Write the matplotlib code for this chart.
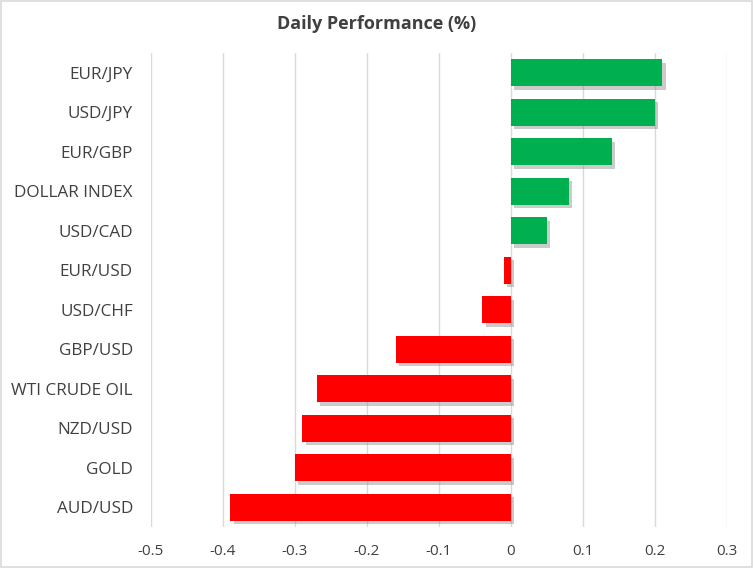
import matplotlib.pyplot as plt
import matplotlib.patheffects as pe

labels = ["EUR/JPY", "USD/JPY", "EUR/GBP", "DOLLAR INDEX", "USD/CAD", "EUR/USD",
          "USD/CHF", "GBP/USD", "WTI CRUDE OIL", "NZD/USD", "GOLD", "AUD/USD"]
values = [0.21, 0.20, 0.14, 0.08, 0.05, -0.01, -0.04, -0.16, -0.27, -0.29, -0.30, -0.39]
xticks = [-0.5, -0.4, -0.3, -0.2, -0.1, 0, 0.1, 0.2, 0.3]
xtick_labels = ["-0.5", "-0.4", "-0.3", "-0.2", "-0.1", "0", "0.1", "0.2", "0.3"]

plt.rcParams["font.family"] = ["Open Sans", "DejaVu Sans"]

fig = plt.figure(figsize=(7.53, 5.68), dpi=100)
ax = fig.add_axes([0.2005, 0.072, 0.765, 0.8347])

colors = ["#00b050" if v >= 0 else "#ff0000" for v in values]
ypos = list(range(len(labels)))
bars = ax.barh(ypos, values, height=0.68, color=colors, zorder=3)
for b in bars:
    b.set_path_effects([pe.SimplePatchShadow(offset=(2.5, -2.5), shadow_rgbFace="#8c8c8c", alpha=0.45),
                        pe.Normal()])

ax.set_ylim(len(labels) - 0.5, -0.5)
ax.set_xlim(-0.5, 0.3)
ax.set_xticks(xticks)
ax.set_xticklabels(xtick_labels)
ax.set_yticks(ypos)
ax.set_yticklabels(labels)
ax.grid(axis="x", color="#d9d9d9", linewidth=1, zorder=0)
for s in ax.spines.values():
    s.set_visible(False)
ax.tick_params(axis="both", length=0, labelcolor="#404040")
ax.tick_params(axis="x", pad=12, labelsize=11)
ax.tick_params(axis="y", pad=13, labelsize=12.3)

fig.text(0.5, 0.958, "Daily Performance (%)", ha="center", va="center",
         fontsize=13, fontweight="bold", color="#404040")

border = plt.Rectangle((0.0015, 0.002), 0.997, 0.996, transform=fig.transFigure,
                       fill=False, edgecolor="#d9d9d9", linewidth=1.2)
fig.patches.append(border)

fig.savefig("out.png", dpi=100)
